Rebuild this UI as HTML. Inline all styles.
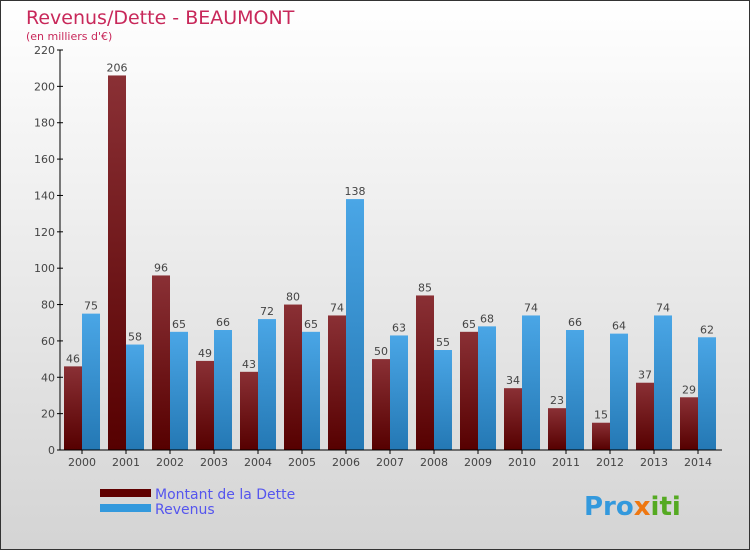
<!DOCTYPE html>
<html><head><meta charset="utf-8"><style>
html,body{margin:0;padding:0}
body{width:750px;height:550px;overflow:hidden;font-family:"DejaVu Sans","Liberation Sans",sans-serif}
</style></head><body>
<svg id="chart" width="750" height="550" xmlns="http://www.w3.org/2000/svg">
<defs>
<linearGradient id="bg" x1="0" y1="0" x2="0" y2="1"><stop offset="0" stop-color="#ffffff"/><stop offset="1" stop-color="#d4d4d4"/></linearGradient>
<linearGradient id="gd" x1="0" y1="0" x2="0" y2="1"><stop offset="0" stop-color="#8a3035"/><stop offset="1" stop-color="#560000"/></linearGradient>
<linearGradient id="gr" x1="0" y1="0" x2="0" y2="1"><stop offset="0" stop-color="#4aa6e6"/><stop offset="1" stop-color="#2478b4"/></linearGradient>
</defs>
<rect x="0.5" y="0.5" width="749" height="549" fill="url(#bg)" stroke="#333"/>
<text x="26" y="24" font-size="19" fill="#c8285a">Revenus/Dette - BEAUMONT</text>
<text x="26" y="40" font-size="11" fill="#c8285a">(en milliers d'€)</text>
<g id="plot"></g>
<g>
<rect x="100" y="489" width="51" height="8" fill="#600000"/>
<text x="155" y="499" font-size="14" fill="#5555ee">Montant de la Dette</text>
<rect x="100" y="504" width="51" height="8" fill="#3399dd"/>
<text x="155" y="514" font-size="14" fill="#5555ee">Revenus</text>
</g>
<text x="584" y="515" font-size="26" font-weight="bold" fill="#3399dd">Pro<tspan fill="#ee7711">x</tspan><tspan fill="#55aa22">iti</tspan></text>
</svg>
<script>
const years=["2000","2001","2002","2003","2004","2005","2006","2007","2008","2009","2010","2011","2012","2013","2014"];
const dette=[46,206,96,49,43,80,74,50,85,65,34,23,15,37,29];
const revenus=[75,58,65,66,72,65,138,63,55,68,74,66,64,74,62];
const yTicks=[0,20,40,60,80,100,120,140,160,180,200,220];
const NS="http://www.w3.org/2000/svg";
const g=document.getElementById('plot');
const y0=450,yTop=50,yMax=220;
const y=v=>y0-v/yMax*(y0-yTop);
const x=i=>82+i*44;
function mk(t,a,txt){const e=document.createElementNS(NS,t);for(const k in a)e.setAttribute(k,a[k]);if(txt!==undefined)e.textContent=txt;g.appendChild(e);return e;}
yTicks.forEach(v=>{
 const l=mk('line',{x1:57,x2:63,y1:y(v),y2:y(v),stroke:'#000'});
 
 
 const t=mk('text',{x:55,y:y(v)+4,'font-size':11,'text-anchor':'end',fill:'#444'},v);
 
 
});
years.forEach((yr,i)=>{
 const b1=mk('rect',{x:x(i)-18,y:y(dette[i]),width:18,height:y0-y(dette[i]),fill:'url(#gd)'});
 
 
 const b2=mk('rect',{x:x(i),y:y(revenus[i]),width:18,height:y0-y(revenus[i]),fill:'url(#gr)'});
 
 
 const t1=mk('text',{x:x(i)-9,y:y(dette[i])-4,'font-size':11,'text-anchor':'middle',fill:'#444'},dette[i]);
 
 
 const t2=mk('text',{x:x(i)+9,y:y(revenus[i])-4,'font-size':11,'text-anchor':'middle',fill:'#444'},revenus[i]);
 
 
 const tk=mk('line',{x1:x(i),x2:x(i),y1:y0,y2:y0+4,stroke:'#000'});
 
 
 const xl=mk('text',{x:x(i),y:y0+16,'font-size':11,'text-anchor':'middle',fill:'#444'},yr);
 
 
});
const ya=mk('line',{x1:60,x2:60,y1:yTop,y2:y0,stroke:'#000'});


const xa=mk('line',{x1:60,x2:722,y1:y0,y2:y0,stroke:'#000'});


</script>
</body></html>
